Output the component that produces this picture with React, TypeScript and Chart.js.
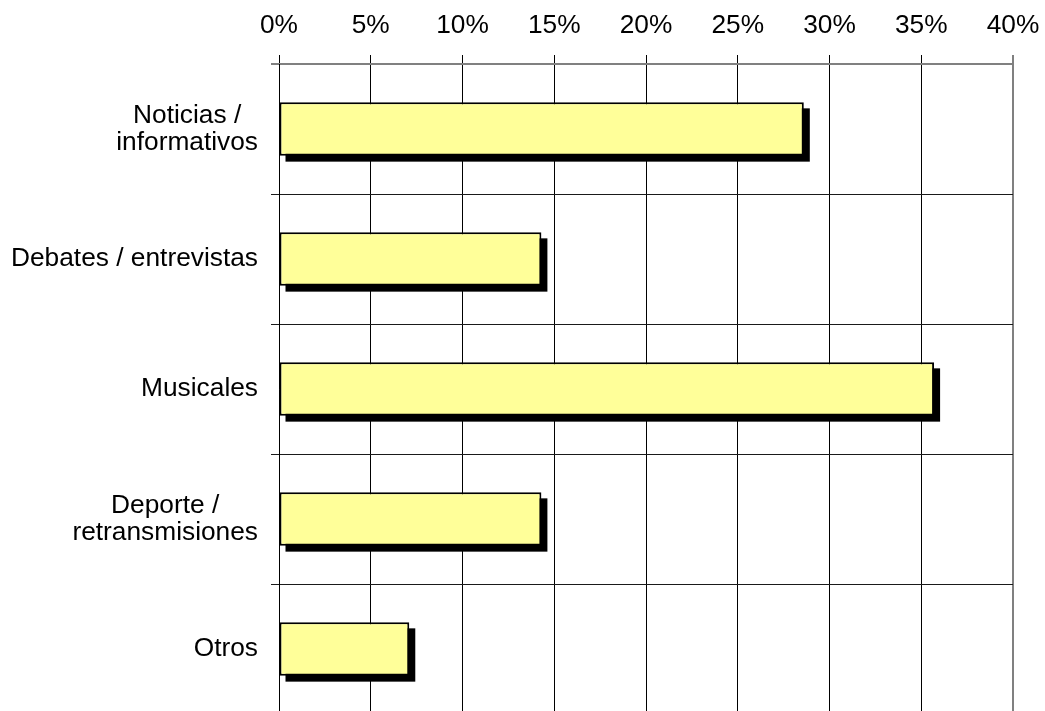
import React, { useEffect, useRef } from "react";
import { Chart, registerables } from "chart.js";

Chart.register(...registerables);

// ---- data ----
const categories: string[][] = [
  ["Noticias /", "informativos"],
  ["Debates / entrevistas"],
  ["Musicales"],
  ["Deporte /", "retransmisiones"],
  ["Otros"],
];
const shares: number[] = [28.6, 14.3, 35.7, 14.3, 7.1];
const axisMin = 0;
const axisMax = 40;
const axisStep = 5;

const FONT = "'Liberation Sans', Arial, sans-serif";
const FONT_SIZE = 26.3;

export default function App() {
  const ref = useRef<HTMLCanvasElement | null>(null);

  useEffect(() => {
    if (!ref.current) return;

    const shadowPlugin = {
      id: "barShadow",
      beforeDatasetsDraw(chart: any) {
        const ctx = chart.ctx;
        const meta = chart.getDatasetMeta(0);
        ctx.save();
        ctx.fillStyle = "#000";
        meta.data.forEach((bar: any) => {
          const { x, y, base, height } = bar.getProps(["x", "y", "base", "height"], true);
          const left = Math.min(x, base);
          const w = Math.abs(x - base);
          ctx.fillRect(left + 6, y - height / 2 + 6, w, height);
        });
        ctx.restore();
      },
    };

    const labelPlugin = {
      id: "catLabels",
      afterDraw(chart: any) {
        const ys = chart.scales.y;
        const ctx = chart.ctx;
        ctx.save();
        ctx.font = `${FONT_SIZE}px ${FONT}`;
        ctx.fillStyle = "#000";
        ctx.textAlign = "center";
        ctx.textBaseline = "middle";
        const rightEdge = ys.right - 8 - 13;
        const lh = 26.5;
        categories.forEach((lines, i) => {
          const yc = ys.getPixelForValue(i);
          const widest = Math.max(...lines.map((l) => ctx.measureText(l).width));
          const cx = rightEdge - widest / 2;
          lines.forEach((l, j) => {
            ctx.fillText(l, cx, yc + (j - (lines.length - 1) / 2) * lh);
          });
        });
        ctx.restore();
      },
    };

    const chart = new Chart(ref.current, {
      type: "bar",
      data: {
        labels: categories,
        datasets: [
          {
            data: shares,
            backgroundColor: "#FFFF99",
            borderColor: "#000",
            borderWidth: 2,
            borderSkipped: false,
            barPercentage: 0.41,
            categoryPercentage: 1,
          },
        ],
      },
      options: {
        responsive: false,
        animation: false,
        indexAxis: "y",
        layout: { padding: { top: 0, left: 0, right: 32, bottom: 0 } },
        plugins: {
          legend: { display: false },
          tooltip: { enabled: false },
        },
        scales: {
          x: {
            type: "linear",
            position: "top",
            min: axisMin,
            max: axisMax,
            ticks: {
              stepSize: axisStep,
              callback: (v: any) => `${v}%`,
              color: "#000",
              padding: 13,
              font: { family: FONT, size: FONT_SIZE },
              maxRotation: 0,
            },
            grid: {
              color: (c: any) => (c.tick && c.tick.value === axisMax ? "#808080" : "#000"),
              lineWidth: (c: any) => (c.tick && c.tick.value === axisMax ? 2 : 1),
              tickLength: 9,
            },
            border: { color: "#808080", width: 2 },
            afterFit: (s: any) => {
              s.height = 64;
              s.paddingLeft = 0;
              s.paddingRight = 0;
            },
          },
          y: {
            type: "category",
            position: "left",
            ticks: { display: false },
            grid: {
              offset: true,
              tickLength: 8,
              color: (c: any) => (c.index === 0 ? "#808080" : "#1a1a1a"),
              lineWidth: (c: any) => (c.index === 0 ? 2 : 1),
            },
            border: { color: "#000", width: 1 },
            afterFit: (s: any) => {
              s.width = 279;
            },
          },
        },
      },
      plugins: [shadowPlugin, labelPlugin],
    } as any);

    return () => chart.destroy();
  }, []);

  return (
    <div
      style={{
        position: "fixed",
        left: 0,
        top: 0,
        width: 1045,
        height: 711,
        overflow: "hidden",
        background: "#fff",
      }}
    >
      <canvas ref={ref} width={1045} height={714} style={{ display: "block" }} />
    </div>
  );
}
